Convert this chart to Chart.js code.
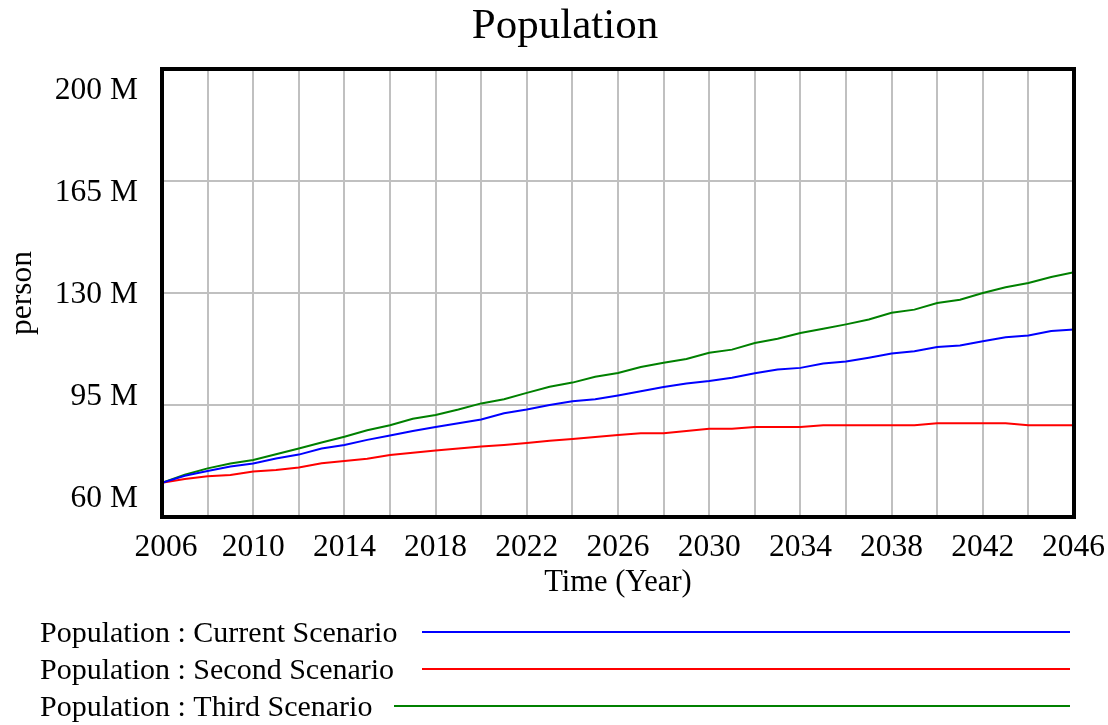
<!DOCTYPE html>
<html>
<head>
<meta charset="utf-8">
<title>Population</title>
<script src="https://cdn.jsdelivr.net/npm/chart.js@4"></script>
<style>
  body { margin: 0; background: #fff; }
  canvas { display: block; }
</style>
</head>
<body>
<canvas id="myChart" width="1108" height="725"></canvas>
<script>
// data (millions of persons)
const years = [2006, 2007, 2008, 2009, 2010, 2011, 2012, 2013, 2014, 2015,
    2016, 2017, 2018, 2019, 2020, 2021, 2022, 2023, 2024, 2025,
    2026, 2027, 2028, 2029, 2030, 2031, 2032, 2033, 2034, 2035,
    2036, 2037, 2038, 2039, 2040, 2041, 2042, 2043, 2044, 2045, 2046];
const currentScenario = [70.7, 72.9, 74.4, 75.8, 76.7, 78.3, 79.5, 81.4, 82.5, 84.1,
    85.5, 86.9, 88.1, 89.3, 90.5, 92.4, 93.6, 95.0, 96.2, 96.8,
    98.0, 99.3, 100.6, 101.7, 102.5, 103.5, 104.9, 106.1, 106.6, 108.0,
    108.6, 109.8, 111.1, 111.8, 113.1, 113.6, 114.9, 116.2, 116.7, 118.1, 118.6];
const secondScenario = [70.7, 71.9, 72.7, 73.1, 74.2, 74.7, 75.5, 76.8, 77.5, 78.2,
    79.4, 80.1, 80.8, 81.4, 82.0, 82.5, 83.1, 83.8, 84.4, 85.0,
    85.6, 86.2, 86.2, 86.9, 87.6, 87.6, 88.1, 88.1, 88.1, 88.7,
    88.7, 88.7, 88.7, 88.7, 89.3, 89.3, 89.3, 89.3, 88.7, 88.7, 88.7];
const thirdScenario = [70.7, 73.2, 75.2, 76.7, 77.8, 79.6, 81.4, 83.3, 85.1, 87.1,
    88.7, 90.7, 91.9, 93.6, 95.5, 96.8, 98.8, 100.7, 102.0, 103.8,
    105.0, 106.9, 108.2, 109.4, 111.3, 112.3, 114.4, 115.7, 117.5, 118.8,
    120.2, 121.7, 123.8, 124.8, 126.9, 127.9, 130.0, 131.8, 133.1, 135.0, 136.5];
const seriesNames = ['Population : Current Scenario', 'Population : Second Scenario', 'Population : Third Scenario'];
const yTicks = [60, 95, 130, 165, 200];
const xTickLabels = [2006, 2010, 2014, 2018, 2022, 2026, 2030, 2034, 2038, 2042, 2046];

const FONT = "'Liberation Serif', 'Times New Roman', serif";

function toPoints(values) {
    return values.map(function(v, i) { return { x: years[i], y: v }; });
}

// draws the frame, axis texts, title and the legend the way Vensim does
const vensimDecor = {
    id: 'vensimDecor',
    afterDraw: function(chart) {
        const ctx = chart.ctx;
        const area = chart.chartArea;
        const xs = chart.scales.x;
        ctx.save();
        ctx.fillStyle = '#000';

        // frame
        ctx.strokeStyle = '#000';
        ctx.lineWidth = 4;
        ctx.strokeRect(area.left, area.top, area.right - area.left, area.bottom - area.top);

        // title
        ctx.font = '43px ' + FONT;
        ctx.textAlign = 'center';
        ctx.textBaseline = 'middle';
        ctx.fillText('Population', 565, 27);

        // y labels, spread a little inside the frame
        ctx.font = '31.5px ' + FONT;
        ctx.textAlign = 'right';
        const yTop = area.top + 22;
        const yBottom = area.bottom - 18;
        yTicks.forEach(function(t, i) {
            const y = yBottom - i * (yBottom - yTop) / (yTicks.length - 1);
            ctx.fillText(t + ' M', area.left - 24, y);
        });

        // x labels
        ctx.textAlign = 'center';
        xTickLabels.forEach(function(t) {
            let x = xs.getPixelForValue(t);
            const w = ctx.measureText(String(t)).width;
            x = Math.max(x, area.left + 4);
            x = Math.min(x, chart.width - 3 - w / 2);
            ctx.fillText(String(t), x, 548);
        });

        // axis titles
        ctx.font = '30.5px ' + FONT;
        ctx.fillText('Time (Year)', 618, 583);
        ctx.save();
        ctx.translate(23, 293);
        ctx.rotate(-Math.PI / 2);
        ctx.font = '31.5px ' + FONT;
        ctx.fillText('person', 0, 0);
        ctx.restore();

        // legend
        const rowY = [633, 670, 707];
        const lineStart = [422, 422, 394];
        ctx.font = '30px ' + FONT;
        ctx.textAlign = 'left';
        chart.data.datasets.forEach(function(ds, i) {
            ctx.fillStyle = '#000';
            ctx.fillText(ds.label, 40, rowY[i] + 1);
            ctx.strokeStyle = ds.borderColor;
            ctx.lineWidth = 2;
            ctx.beginPath();
            ctx.moveTo(lineStart[i], rowY[i] - 1);
            ctx.lineTo(1070, rowY[i] - 1);
            ctx.stroke();
        });
        ctx.restore();
    }
};

const ctx = document.getElementById('myChart').getContext('2d');
const myChart = new Chart(ctx, {
    type: 'line',
    data: {
        datasets: [{
            label: seriesNames[0],
            data: toPoints(currentScenario),
            borderColor: '#0000ff',
        }, {
            label: seriesNames[1],
            data: toPoints(secondScenario),
            borderColor: '#ff0000',
        }, {
            label: seriesNames[2],
            data: toPoints(thirdScenario),
            borderColor: '#008000',
        }]
    },
    options: {
        responsive: false,
        animation: false,
        devicePixelRatio: 1,
        layout: {
            padding: { left: 162, right: 34, top: 69, bottom: 208 }
        },
        elements: {
            line: { borderWidth: 2, tension: 0 },
            point: { radius: 0 }
        },
        plugins: {
            legend: { display: false },
            title: { display: false },
            tooltip: { enabled: false }
        },
        scales: {
            x: {
                type: 'linear',
                min: 2006,
                max: 2046,
                ticks: { stepSize: 2, display: false },
                grid: { color: '#c0c0c0', lineWidth: 2, drawTicks: false },
                border: { display: false }
            },
            y: {
                min: 60,
                max: 200,
                ticks: { stepSize: 35, display: false },
                grid: { color: '#c0c0c0', lineWidth: 2, drawTicks: false },
                border: { display: false }
            }
        }
    },
    plugins: [vensimDecor]
});
</script>
</body>
</html>
